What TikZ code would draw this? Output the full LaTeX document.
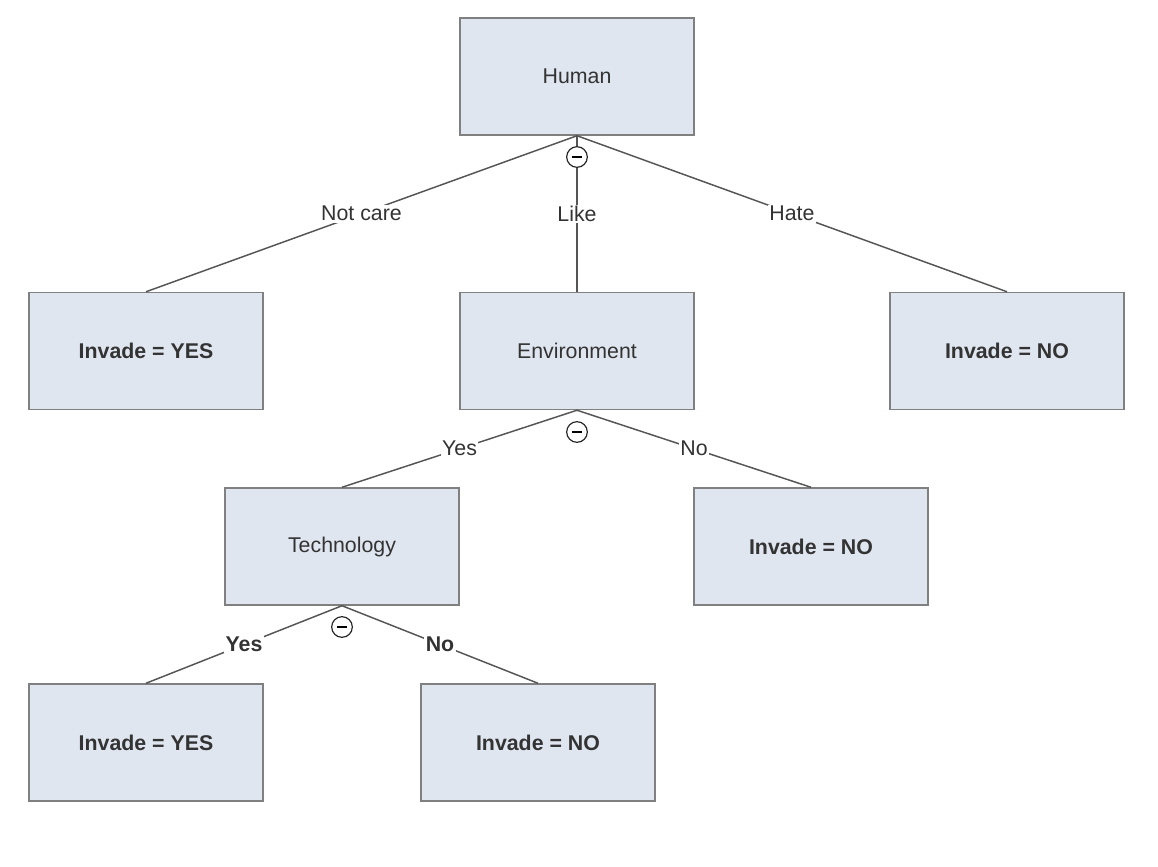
\documentclass[tikz,border=0pt]{standalone}
\usepackage{fontspec}
\setmainfont{Liberation Sans}
\definecolor{boxfill}{HTML}{E0E6F0}
\definecolor{boxline}{HTML}{808080}
\definecolor{txt}{HTML}{333333}
\definecolor{edge}{HTML}{555555}
\begin{document}
\begin{tikzpicture}[x=0.75pt,y=-0.75pt,
  nodebox/.style={draw=boxline,fill=boxfill,line width=1.1pt,minimum width=175.5pt,minimum height=87.75pt,inner sep=0pt,text=txt,font=\fontsize{16}{19}\selectfont},
  leafbox/.style={nodebox,font=\fontsize{16}{19}\selectfont\bfseries},
  conn/.style={draw=edge,line width=1.1pt},
  elabel/.style={fill=white,inner sep=1pt,text=txt,font=\fontsize{16}{19}\selectfont},
  blabel/.style={elabel,font=\fontsize{16}{19}\selectfont\bfseries},
  collapser/.style={circle,draw=black!85,fill=white,line width=0.9pt,minimum size=15.5pt,inner sep=0pt}
]
\useasboundingbox[fill=white] (0,0) rectangle (1158,867);
\node[nodebox] (human) at (577,76.5) {Human};
\node[leafbox] (notcare) at (146,351) {Invade = YES};
\node[nodebox] (env) at (577,351) {Environment};
\node[leafbox] (hate) at (1007,351) {Invade = NO};
\node[nodebox] (tech) at (342,546.5) {Technology};
\node[leafbox] (envno) at (811,546.5) {Invade = NO};
\node[leafbox] (techyes) at (146,742.5) {Invade = YES};
\node[leafbox] (techno) at (538,742.5) {Invade = NO};

\draw[conn] (human.south) -- node[elabel] {Not care} (notcare.north);
\draw[conn] (human.south) -- node[elabel] {Like} (env.north);
\draw[conn] (human.south) -- node[elabel] {Hate} (hate.north);
\draw[conn] (env.south) -- node[elabel] {Yes} (tech.north);
\draw[conn] (env.south) -- node[elabel] {No} (envno.north);
\draw[conn] (tech.south) -- node[blabel] {Yes} (techyes.north);
\draw[conn] (tech.south) -- node[blabel] {No} (techno.north);

\node[collapser] (c1) at (577,157) {};
\draw[line width=0.9pt] ([xshift=-4pt]c1.center) -- ([xshift=4pt]c1.center);
\node[collapser] (c2) at (577,432) {};
\draw[line width=0.9pt] ([xshift=-4pt]c2.center) -- ([xshift=4pt]c2.center);
\node[collapser] (c3) at (342,627) {};
\draw[line width=0.9pt] ([xshift=-4pt]c3.center) -- ([xshift=4pt]c3.center);
\end{tikzpicture}
\end{document}
